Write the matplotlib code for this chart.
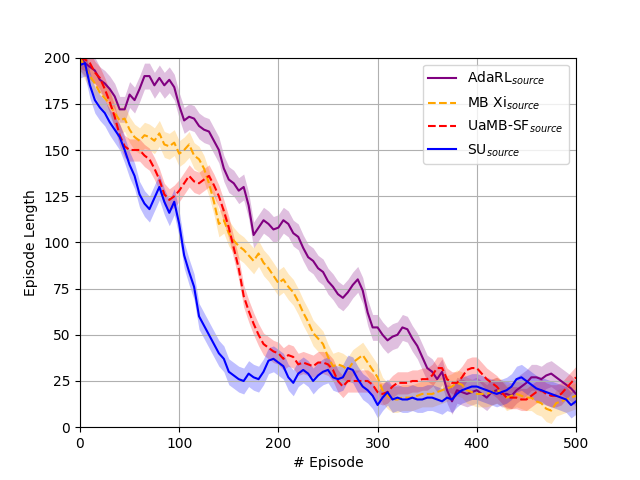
import numpy as np
import matplotlib
matplotlib.use("Agg")
import matplotlib.pyplot as plt

episodes = np.arange(0, 501, 5)

adarl = [200, 197, 195, 193, 188, 186, 183, 179, 172, 172,
         180, 177, 183, 190, 190, 185, 189, 185, 188, 184,
         174, 166, 168, 167, 163, 161, 160, 155, 150, 140,
         134, 132, 128, 130, 120, 104, 108, 112, 110, 107,
         108, 112, 110, 105, 103, 97, 92, 90, 86, 84,
         79, 76, 72, 70, 73, 77, 80, 74, 62, 54,
         54, 50, 47, 49, 50, 54, 53, 48, 44, 38,
         32, 30, 26, 30, 20, 14, 20, 19, 18, 19,
         20, 18, 16, 19, 20, 18, 18, 17, 20, 22,
         24, 27, 27, 26, 28, 29, 27, 25, 23, 21, 18]

mbxi = [200, 195, 190, 186, 181, 178, 175, 170, 166, 167,
        161, 157, 155, 158, 157, 155, 159, 153, 152, 154,
        148, 150, 153, 147, 145, 140, 132, 122, 110, 112,
        105, 101, 98, 96, 93, 90, 94, 89, 86, 82,
        78, 80, 76, 73, 68, 62, 57, 51, 48, 45,
        38, 33, 34, 33, 31, 35, 37, 39, 35, 31,
        27, 20, 17, 15, 15, 16, 16, 16, 17, 18,
        18, 18, 19, 20, 21, 22, 24, 23, 20, 19,
        18, 18, 18, 19, 20, 19, 16, 17, 18, 17,
        16, 16, 14, 13, 10, 9, 13, 14, 15, 16, 17]

uamb = [200, 199, 197, 192, 189, 183, 176, 168, 158, 152,
        150, 150, 150, 147, 145, 140, 134, 126, 123, 125,
        128, 132, 136, 133, 132, 134, 136, 131, 125, 117,
        108, 97, 86, 71, 63, 56, 50, 45, 43, 41,
        40, 37, 39, 38, 34, 35, 34, 33, 35, 35,
        34, 31, 25, 22, 25, 25, 25, 25, 25, 23,
        19, 18, 19, 22, 24, 24, 24, 25, 25, 26,
        26, 28, 32, 32, 26, 24, 24, 27, 31, 32,
        32, 29, 26, 24, 22, 19, 16, 16, 16, 15,
        15, 17, 19, 20, 18, 17, 17, 18, 21, 24, 27]

su = [196, 197, 185, 177, 173, 170, 165, 161, 157, 150,
      142, 136, 126, 121, 118, 124, 130, 122, 116, 122,
      110, 93, 84, 76, 60, 55, 50, 45, 40, 37,
      30, 28, 26, 25, 29, 27, 26, 30, 36, 37,
      35, 33, 27, 24, 29, 31, 29, 25, 28, 30,
      31, 27, 26, 27, 32, 31, 26, 22, 20, 17,
      12, 16, 19, 15, 16, 15, 15, 16, 15, 15,
      16, 16, 15, 14, 16, 15, 18, 20, 21, 22,
      22, 21, 20, 19, 18, 19, 20, 22, 26, 27,
      25, 23, 21, 20, 19, 18, 17, 16, 15, 12, 14]

labels = [r'AdaRL$_{source}$', r'MB Xi$_{source}$', r'UaMB-SF$_{source}$', r'SU$_{source}$']
spread = [7, 7, 6, 7]

series = [adarl, mbxi, uamb, su]
colors = ['purple', 'orange', 'red', 'blue']
styles = ['-', '--', '--', '-']

fig, ax = plt.subplots(figsize=(6.4, 4.8), dpi=100)
for vals, lab, c, ls, s in zip(series, labels, colors, styles, spread):
    vals = np.array(vals, dtype=float)
    ax.fill_between(episodes, vals - s, vals + s, color=c, alpha=0.25, linewidth=0)
    ax.plot(episodes, vals, color=c, linestyle=ls, label=lab, linewidth=1.5)

ax.set_xlim(0, 500)
ax.set_ylim(0, 200)
ax.set_xlabel('# Episode')
ax.set_ylabel('Episode Length')
ax.grid(True)
ax.legend(loc='upper right')
fig.savefig('out.png')
